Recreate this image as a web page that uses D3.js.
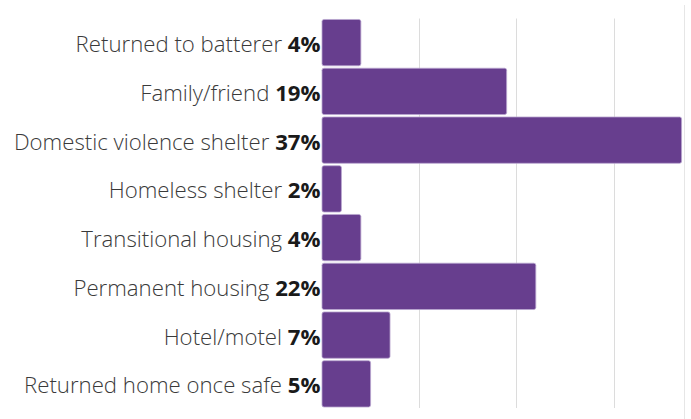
<!DOCTYPE html>
<html>
<head>
<meta charset="utf-8">
<script src="https://cdn.jsdelivr.net/npm/d3@7"></script>
<style>
  html, body { margin: 0; padding: 0; background: #fff; }
  svg { display: block; font-family: "Open Sans", sans-serif; }
  .label { font-size: 22.2px; font-weight: 300; fill: #3a3a3a; }
  .label .pct { font-weight: 700; fill: #1a1a1a; }
</style>
</head>
<body>
<div id="chart"></div>
<script>
/* Chart data. */
const categories = [
  'Returned to batterer',
  'Family/friend',
  'Domestic violence shelter',
  'Homeless shelter',
  'Transitional housing',
  'Permanent housing',
  'Hotel/motel',
  'Returned home once safe'
];
const percents = [4, 19, 37, 2, 4, 22, 7, 5];
const gridTicks = [10, 20, 30];

const width = 691;
const height = 419;
const margin = { top: 18.5, right: 7, bottom: 11, left: 322 };

const svg = d3.select('#chart').append('svg')
  .attr('width', width)
  .attr('height', height);

const x = d3.scaleLinear()
  .domain([0, 37.25])
  .range([margin.left, width - margin.right]);

const y = d3.scaleBand()
  .domain(categories)
  .range([margin.top, height - margin.bottom])
  .paddingInner(0.05)
  .paddingOuter(0.02);

// gridlines
svg.append('g')
  .selectAll('line')
  .data(gridTicks)
  .join('line')
  .attr('x1', (d) => Math.round(x(d)) + 0.5)
  .attr('x2', (d) => Math.round(x(d)) + 0.5)
  .attr('y1', margin.top)
  .attr('y2', height - margin.bottom)
  .attr('stroke', '#dcdcdc')
  .attr('stroke-width', 1);

// right boundary
svg.append('line')
  .attr('x1', x.range()[1] + 0.5)
  .attr('x2', x.range()[1] + 0.5)
  .attr('y1', 5)
  .attr('y2', height)
  .attr('stroke', '#e6e6e6');

// bars
svg.append('g')
  .selectAll('rect')
  .data(percents)
  .join('rect')
  .attr('x', x(0))
  .attr('y', (d, i) => y(categories[i]))
  .attr('width', (d) => x(d) - x(0))
  .attr('height', y.bandwidth())
  .attr('rx', 2)
  .attr('fill', '#673e8e')
  .attr('stroke', '#b9a6cf')
  .attr('stroke-width', 0.8);

// labels
const labels = svg.append('g')
  .selectAll('text')
  .data(percents)
  .join('text')
  .attr('class', 'label')
  .attr('x', x(0) - 1.5)
  .attr('y', (d, i) => y(categories[i]) + y.bandwidth() / 2 + 1.5)
  .attr('dy', '0.36em')
  .attr('text-anchor', 'end');
labels.append('tspan').text((d, i) => categories[i] + ' ');
labels.append('tspan').attr('class', 'pct').text((d) => d + '%');
</script>
</body>
</html>
